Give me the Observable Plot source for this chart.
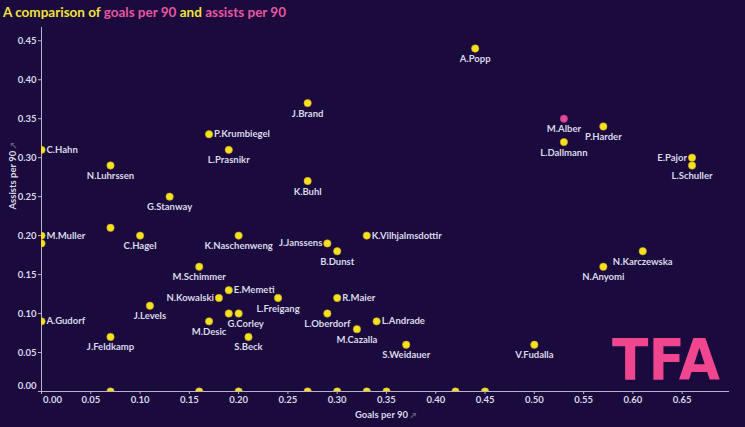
<!DOCTYPE html>
<html>
<head>
<meta charset="utf-8">
<script src="https://cdn.jsdelivr.net/npm/d3@7"></script>
<script src="https://cdn.jsdelivr.net/npm/@observablehq/plot@0.6"></script>
<style>
  html, body { margin: 0; padding: 0; background: #1a0a3e; }
  #wrap { position: relative; width: 745px; height: 427px; overflow: hidden; background: #1a0a3e; }
  #title { height: 22px; line-height: 24px; padding-left: 3px; font-family: Lato, "Open Sans", sans-serif; font-weight: 700; font-size: 13.5px; color: #f1e33b; white-space: nowrap; }
  #title .pk { color: #e8569f; }
  #logo { position: absolute; left: 0; top: 0; pointer-events: none; }
</style>
</head>
<body>
<div id="wrap">
  <div id="title">A comparison of <span class="pk">goals per 90</span> and <span class="pk">assists per 90</span></div>
  <div id="chart"></div>
  <svg id="logo" width="745" height="427"><text x="612" y="380" font-family="DejaVu Sans, sans-serif" font-weight="900" font-size="57" fill="#f0468f" textLength="108" lengthAdjust="spacingAndGlyphs">TFA</text></svg>
</div>
<script>
// ---- data ----
const players = [
  "A.Popp", "J.Brand", "P.Krumbiegel", "L.Prasnikr", "C.Hahn", "N.Luhrssen", "G.Stanway", "K.Buhl",
  "", "M.Muller", "", "C.Hagel", "K.Naschenweng", "M.Schimmer", "E.Memeti", "N.Kowalski",
  "J.Levels", "", "G.Corley", "M.Desic", "A.Gudorf", "J.Feldkamp", "S.Beck", "L.Freigang",
  "J.Janssens", "B.Dunst", "K.Vilhjalmsdottir", "R.Maier", "L.Oberdorf", "M.Cazalla", "L.Andrade", "S.Weidauer",
  "M.Alber", "L.Dallmann", "P.Harder", "E.Pajor", "L.Schuller", "N.Karczewska", "N.Anyomi", "V.Fudalla",
  "", "", "", "", "", "", "", "", ""
];
const goals = [
  0.44, 0.27, 0.17, 0.19, 0.00, 0.07, 0.13, 0.27,
  0.07, 0.00, 0.00, 0.10, 0.20, 0.16, 0.19, 0.18,
  0.11, 0.19, 0.20, 0.17, 0.00, 0.07, 0.21, 0.24,
  0.29, 0.30, 0.33, 0.30, 0.29, 0.32, 0.34, 0.37,
  0.53, 0.53, 0.57, 0.66, 0.66, 0.61, 0.57, 0.50,
  0.07, 0.16, 0.20, 0.27, 0.30, 0.33, 0.35, 0.42, 0.45
];
const assists = [
  0.44, 0.37, 0.33, 0.31, 0.31, 0.29, 0.25, 0.27,
  0.21, 0.20, 0.19, 0.20, 0.20, 0.16, 0.13, 0.12,
  0.11, 0.10, 0.10, 0.09, 0.09, 0.07, 0.07, 0.12,
  0.19, 0.18, 0.20, 0.12, 0.10, 0.08, 0.09, 0.06,
  0.35, 0.32, 0.34, 0.30, 0.29, 0.18, 0.16, 0.06,
  0, 0, 0, 0, 0, 0, 0, 0, 0
];
const highlighted = ["M.Alber"];
const xTicks = [0, 0.05, 0.10, 0.15, 0.20, 0.25, 0.30, 0.35, 0.40, 0.45, 0.50, 0.55, 0.60, 0.65];
const yTicks = [0, 0.05, 0.10, 0.15, 0.20, 0.25, 0.30, 0.35, 0.40, 0.45];
const xTitle = "Goals per 90";
const yTitle = "Assists per 90";

// label placement (layout only)
const rightLabels = ["P.Krumbiegel", "C.Hahn", "M.Muller", "E.Memeti", "A.Gudorf", "K.Vilhjalmsdottir", "R.Maier", "L.Andrade"];
const leftLabels = ["N.Kowalski", "J.Janssens", "E.Pajor"];
const shiftedLabels = ["G.Corley"];

// ---- build ----
const rows = players.map((p, i) => ({name: p, g: goals[i], a: assists[i], hl: highlighted.includes(p)}));
const named = rows.filter(d => d.name);
const right = named.filter(d => rightLabels.includes(d.name));
const left = named.filter(d => leftLabels.includes(d.name));
const shifted = named.filter(d => shiftedLabels.includes(d.name));
const below = named.filter(d => !rightLabels.includes(d.name) && !leftLabels.includes(d.name) && !shiftedLabels.includes(d.name));

const fmt = d => d.toFixed(2);
const axisCol = "#b9b2cf";
const textCol = "#dcd9e8";
const yellow = "#f5e124";
const pink = "#e24a9c";
const labelFont = {fontSize: 9.5, fontWeight: "bold", fill: textCol};

const chart = Plot.plot({
  width: 745,
  height: 405,
  marginLeft: 41,
  marginRight: 16,
  marginTop: 5,
  marginBottom: 36,
  x: {domain: [0, 0.698]},
  y: {domain: [0, 0.467]},
  style: {background: "transparent", color: textCol, fontFamily: "Lato, 'Open Sans', sans-serif", fontSize: "9.5px", fontWeight: "bold"},
  marks: [
    Plot.axisX({ticks: xTicks.filter(t => t > 0), tickFormat: fmt, tickSize: 3, tickPadding: 2, stroke: axisCol, fill: textCol, label: null}),
    Plot.axisX({ticks: [0], tickFormat: () => "", tickSize: 3, stroke: axisCol, label: null}),
    Plot.axisX({ticks: [0], tickFormat: fmt, tickSize: 0, tickPadding: 5, dx: 11, fill: textCol, label: null}),
    Plot.axisY({ticks: yTicks.filter(t => t > 0), tickFormat: fmt, tickSize: 3, tickPadding: 2, stroke: axisCol, fill: textCol, label: null}),
    Plot.axisY({ticks: [0], tickFormat: () => "", tickSize: 3, stroke: axisCol, label: null}),
    Plot.axisY({ticks: [0], tickFormat: fmt, tickSize: 0, tickPadding: 5, dy: -6, fill: textCol, label: null}),
    Plot.ruleX([0], {stroke: axisCol, strokeWidth: 1}),
    Plot.ruleY([0], {stroke: axisCol, strokeWidth: 1}),
    Plot.dot(rows, {x: "g", y: "a", r: 3.7, fill: d => d.hl ? pink : yellow, stroke: d => d.hl ? "#b8357a" : "#c9a814", strokeWidth: 0.6, clip: true}),
    Plot.text(below, {x: "g", y: "a", text: "name", dy: 10.5, ...labelFont}),
    Plot.text(shifted, {x: "g", y: "a", text: "name", dy: 10.5, dx: 7, ...labelFont}),
    Plot.text(right, {x: "g", y: "a", text: "name", dx: 5, textAnchor: "start", ...labelFont}),
    Plot.text(left, {x: "g", y: "a", text: "name", dx: -5, textAnchor: "end", ...labelFont}),
    Plot.text([xTitle], {text: d => d, frameAnchor: "bottom", dy: 26, fontSize: 9.5, fontWeight: "bold", fill: textCol}),
    Plot.text([yTitle], {text: d => d, frameAnchor: "left", dx: -29, rotate: -90, fontSize: 9.5, fontWeight: "bold", fill: textCol})
  ]
});

// add the faint icon after the axis titles
d3.select(chart).selectAll("text").filter(function() {
  const t = this.textContent;
  return t === xTitle || t === yTitle;
}).each(function() {
  d3.select(this).append("tspan").attr("fill", "#6f6790").attr("font-size", "8px").text(" \u2197");
});

document.getElementById("chart").appendChild(chart);
</script>
</body>
</html>
